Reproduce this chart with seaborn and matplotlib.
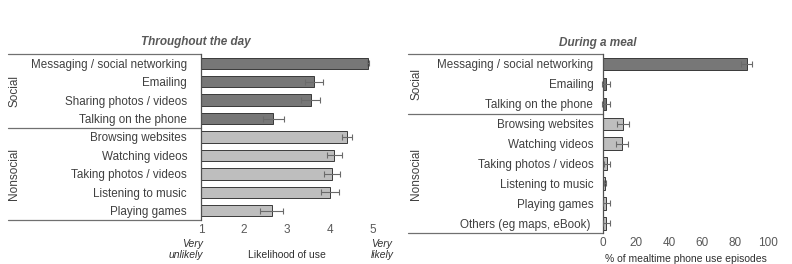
import numpy as np
import pandas as pd
import matplotlib
matplotlib.use("Agg")
import matplotlib.pyplot as plt
import matplotlib.transforms as mtransforms
import seaborn as sns

# Throughout the day: mean likelihood of use (1-5) and error
day_labels = ["Messaging / social networking", "Emailing", "Sharing photos / videos",
              "Talking on the phone", "Browsing websites", "Watching videos",
              "Taking photos / videos", "Listening to music", "Playing games"]
day_means = [4.88, 3.63, 3.55, 2.68, 4.40, 4.10, 4.05, 4.00, 2.64]
day_err = [0.03, 0.20, 0.22, 0.24, 0.12, 0.18, 0.18, 0.20, 0.26]
day_group = ["Social"] * 4 + ["Nonsocial"] * 5

# During a meal: % of mealtime phone use episodes
meal_labels = ["Messaging / social networking", "Emailing", "Talking on the phone",
               "Browsing websites", "Watching videos", "Taking photos / videos",
               "Listening to music", "Playing games", "Others (eg maps, eBook) "]
meal_means = [87, 2, 2, 12, 11.5, 2.5, 1.2, 2, 2]
meal_err = [3.5, 2.5, 2.5, 3.5, 3.5, 2, 0.8, 2, 2]
meal_group = ["Social"] * 3 + ["Nonsocial"] * 6

DARK = "#777777"
LIGHT = "#bebebe"
TEXT = "#404040"
GRAY = "#595959"


def draw_panel(fig, ax, labels, means, errs, groups, line_x0, label_x, pad):
    df = pd.DataFrame({"activity": labels, "value": means, "group": groups})
    sns.barplot(data=df, x="value", y="activity", hue="group",
                palette={"Social": DARK, "Nonsocial": LIGHT}, dodge=False,
                width=0.62, edgecolor="#3a3a3a", linewidth=0.7,
                errorbar=None, legend=False, ax=ax)
    ax.errorbar(df["value"], np.arange(len(df)), xerr=errs, fmt="none",
                ecolor="#6a6a6a", elinewidth=0.8, capsize=2.5, capthick=0.8,
                clip_on=False, zorder=5)
    ax.set_ylim(len(df) - 0.5, -0.5)
    ax.set_ylabel("")
    for s in ["top", "right", "bottom"]:
        ax.spines[s].set_visible(False)
    ax.spines["left"].set_color("#505050")
    ax.spines["left"].set_linewidth(0.9)
    ax.tick_params(axis="y", length=0, pad=pad, labelsize=8.4, labelcolor=TEXT)
    ax.tick_params(axis="x", length=0, pad=3, labelsize=8.5, labelcolor=GRAY)

    # group separators and labels
    trans = mtransforms.blended_transform_factory(fig.transFigure, ax.transData)
    x1 = ax.get_position().x0
    n_social = groups.count("Social")
    for yb in [-0.5, n_social - 0.5, len(groups) - 0.5]:
        ax.plot([line_x0, x1], [yb, yb], transform=trans, color="#707070",
                lw=0.9, clip_on=False)
    ax.text(label_x, (n_social - 1) / 2, "Social", transform=trans, rotation=90,
            ha="center", va="center", fontsize=8.5, color=TEXT)
    ax.text(label_x, (n_social + len(groups) - 1) / 2, "Nonsocial", transform=trans,
            rotation=90, ha="center", va="center", fontsize=8.5, color=TEXT)


sns.set_style("white")
plt.rcParams["font.family"] = ["Liberation Sans", "DejaVu Sans"]

fig = plt.figure(figsize=(7.92, 2.64), dpi=100)
ax1 = fig.add_axes([201 / 792, 44 / 264, 172 / 792, 166 / 264])
ax2 = fig.add_axes([603 / 792, 30.7 / 264, 165 / 792, 179.3 / 264])

draw_panel(fig, ax1, day_labels, day_means, day_err, day_group, 8 / 792, 14 / 792, 10)
ax1.set_xlim(1, 5)
ax1.set_xticks([1, 2, 3, 4, 5])
ax1.set_xlabel("")
xt = ax1.get_xaxis_transform()
ax1.text(3, -0.212, "Likelihood of use", transform=xt,
         ha="center", va="center", fontsize=7.5, color="#303030")
ax1.text(1.05, -0.178, "Very\nunlikely", transform=xt,
         ha="right", va="center", fontsize=7.5, style="italic", color="#303030",
         linespacing=1.15)
ax1.text(4.95, -0.178, "Very\nlikely", transform=xt,
         ha="left", va="center", fontsize=7.5, style="italic", color="#303030",
         linespacing=1.15)

draw_panel(fig, ax2, meal_labels, meal_means, meal_err, meal_group, 408 / 792, 416 / 792, 7)
ax2.set_xlim(0, 100)
ax2.set_xticks([0, 20, 40, 60, 80, 100])
ax2.set_xlabel("% of mealtime phone use episodes", fontsize=7.5, color="#303030",
               labelpad=3)

fig.text(196 / 792, 1 - 42.5 / 264, "Throughout the day", ha="center", va="center",
         fontsize=8.5, fontweight="bold", style="italic", color=GRAY)
fig.text(598 / 792, 1 - 43 / 264, "During a meal", ha="center", va="center",
         fontsize=8.5, fontweight="bold", style="italic", color=GRAY)

fig.savefig("out.png", dpi=100)
